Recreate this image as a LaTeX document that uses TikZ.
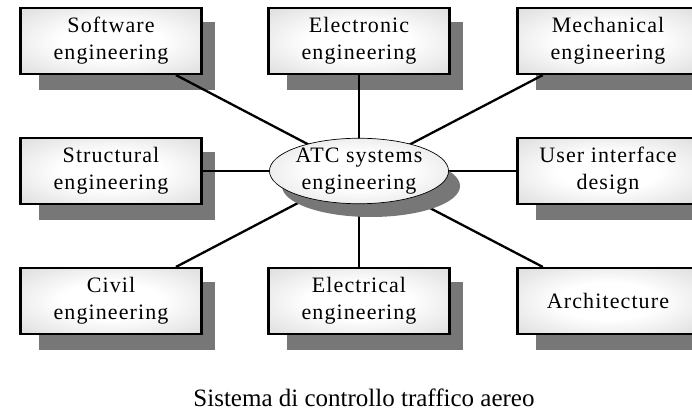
\documentclass[tikz,border=0pt]{standalone}
\usepackage{fontspec}
\setmainfont{Liberation Serif}
\newfontfamily\boxfont[LetterSpace=5]{Liberation Serif}
\usetikzlibrary{shapes.geometric,calc}
\definecolor{shadowc}{HTML}{777777}
\pgfdeclareradialshading{boxsh}{\pgfpoint{0bp}{0bp}}{color(0bp)=(white); color(14bp)=(white); color(50bp)=(black!22); color(100bp)=(black!22)}
\pgfdeclarelayer{shadows}
\pgfdeclarelayer{links}
\pgfsetlayers{shadows,links,main}
\begin{document}
\begin{tikzpicture}[x=1pt,y=-1pt,
  txt/.style={font=\boxfont\fontsize{22}{27}\selectfont, align=center, text=black},
  box/.style={txt, draw=black, line width=2.1pt, minimum width=181pt, minimum height=66pt, inner sep=0pt, shading=boxsh},
  hub/.style={txt, ellipse, draw=black, line width=0.7pt, minimum width=178pt, minimum height=62pt, inner sep=0pt, shading=boxsh},
  link/.style={draw=black, line width=2.3pt},
  shadowfill/.style={fill=shadowc},
  captxt/.style={font=\fontsize{25}{30}\selectfont, text=black, inner sep=0pt, text depth=0pt, anchor=base}
]
\useasboundingbox (0,0) rectangle (692,411);

% nodes
\node[hub] (c) at (359,171) {ATC systems\\engineering};
\node[box] (sw) at (111,41) {Software\\engineering};
\node[box] (el) at (359,41) {Electronic\\engineering};
\node[box] (me) at (608,41) {Mechanical\\engineering};
\node[box] (st) at (111,171) {Structural\\engineering};
\node[box] (ui) at (608,171) {User interface\\design};
\node[box] (ci) at (111,301) {Civil\\engineering};
\node[box] (ec) at (359,301) {Electrical\\engineering};
\node[box] (ar) at (608,301) {Architecture};

\node[captxt] (t) at (364,406) {Sistema di controllo traffico aereo};

% box shadows
\begin{pgfonlayer}{shadows}
  \foreach \n in {sw,el,me,st,ui,ci,ec,ar}
    \fill[shadowfill] ($(\n.north west)+(20,15)$) rectangle ($(\n.south east)+(12,15)$);
\end{pgfonlayer}

% connectors, hub backdrop and hub shadow
\begin{pgfonlayer}{links}
  \foreach \n in {sw,el,me,st,ui,ci,ec,ar}
    \draw[link] (c.center) -- (\n);
  \fill[black!9, rounded corners=10pt] ($(c.north west)+(0,-2)$) rectangle ($(c.south east)+(-2,8)$);
  \fill[shadowfill] ($(c.center)+(12,15)$) ellipse [x radius=89, y radius=31];
\end{pgfonlayer}
\end{tikzpicture}
\end{document}
